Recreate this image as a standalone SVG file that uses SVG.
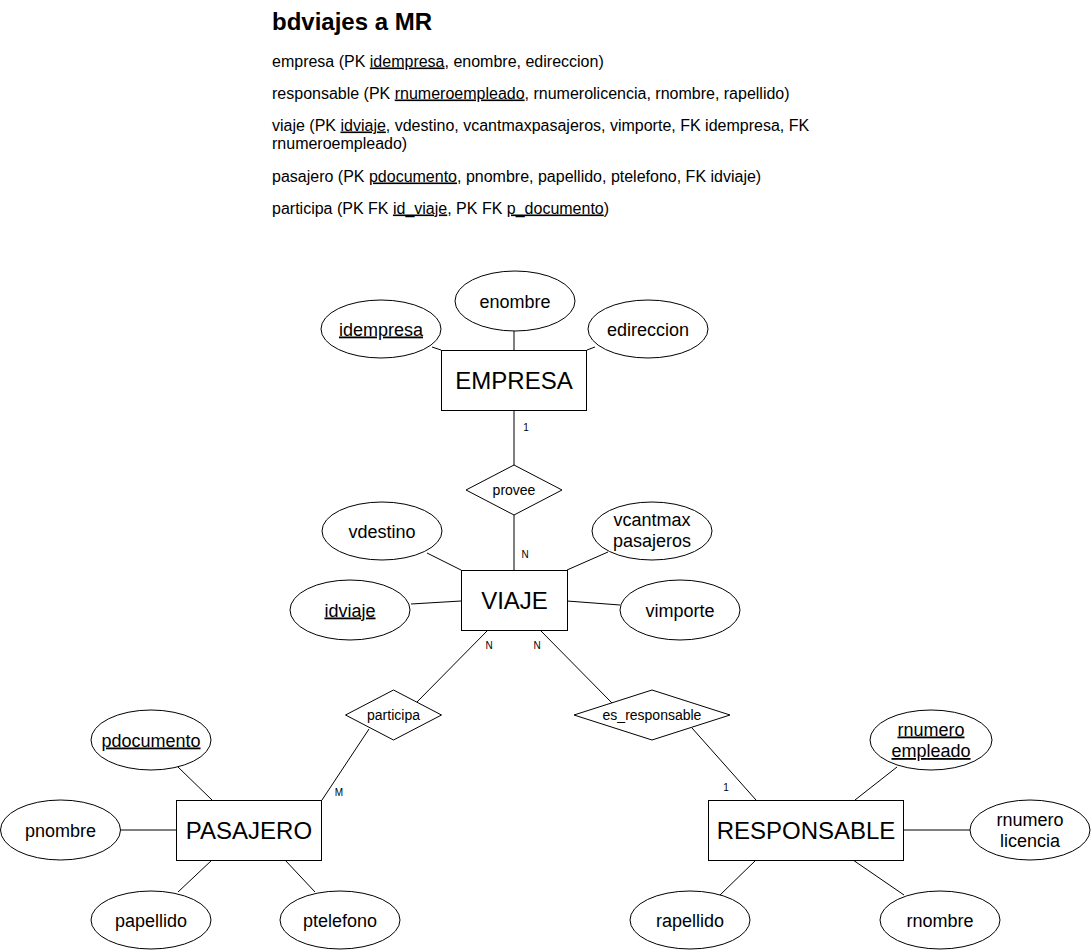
<svg xmlns="http://www.w3.org/2000/svg" width="1091" height="951" viewBox="0 0 1091 951">
<style>
.shp{fill:#ffffff;stroke:#000000;stroke-width:1}
.ln{stroke:#000000;stroke-width:1;fill:none}
text{font-family:"Liberation Sans",Arial,sans-serif;fill:#000000}
.ent{font-size:24px;text-anchor:middle}
.att{font-size:18px;text-anchor:middle}
.rel{font-size:14px;text-anchor:middle}
.card{font-size:10px;text-anchor:middle}
.body{font-size:16px}
.u{text-decoration:underline}
</style>
<rect x="0" y="0" width="1091" height="951" fill="#ffffff"/>
<g id="schema-text">
<text x="272" y="29.5" style="font-size:24px;font-weight:bold">bdviajes a MR</text>
<text class="body" x="272" y="66.5">empresa (PK <tspan class="u">idempresa</tspan>, enombre, edireccion)</text>
<text class="body" x="272" y="98.5">responsable (PK <tspan class="u">rnumeroempleado</tspan>, rnumerolicencia, rnombre, rapellido)</text>
<text class="body" x="272" y="130.5">viaje (PK <tspan class="u">idviaje</tspan>, vdestino, vcantmaxpasajeros, vimporte, FK idempresa, FK</text>
<text class="body" x="272" y="148.5">rnumeroempleado)</text>
<text class="body" x="272" y="181.5">pasajero (PK <tspan class="u">pdocumento</tspan>, pnombre, papellido, ptelefono, FK idviaje)</text>
<text class="body" x="272" y="213.5">participa (PK FK <tspan class="u">id_viaje</tspan>, PK FK <tspan class="u">p_documento</tspan>)</text>
</g>
<g id="connectors">
<line class="ln" x1="514" y1="410" x2="514" y2="465"/>
<line class="ln" x1="514" y1="515" x2="514" y2="570"/>
<line class="ln" x1="488" y1="630" x2="417" y2="702"/>
<line class="ln" x1="369" y1="729" x2="322" y2="800"/>
<line class="ln" x1="540" y1="630" x2="612" y2="703"/>
<line class="ln" x1="692" y1="728" x2="756" y2="800"/>
<line class="ln" x1="432" y1="347" x2="441" y2="350"/>
<line class="ln" x1="514" y1="331" x2="514" y2="350"/>
<line class="ln" x1="587" y1="350" x2="595" y2="347"/>
<line class="ln" x1="427" y1="553" x2="461" y2="570"/>
<line class="ln" x1="567" y1="570" x2="608" y2="552"/>
<line class="ln" x1="411" y1="604" x2="461" y2="601"/>
<line class="ln" x1="567" y1="601" x2="620" y2="605"/>
<line class="ln" x1="178" y1="767" x2="212" y2="800"/>
<line class="ln" x1="121" y1="830" x2="176" y2="830"/>
<line class="ln" x1="212" y1="860" x2="178" y2="892"/>
<line class="ln" x1="285" y1="860" x2="315" y2="892"/>
<line class="ln" x1="897" y1="767" x2="855" y2="800"/>
<line class="ln" x1="903" y1="830" x2="970" y2="830"/>
<line class="ln" x1="756" y1="860" x2="720" y2="895"/>
<line class="ln" x1="853" y1="860" x2="904" y2="895"/>
<text class="card" x="526" y="430.5">1</text>
<text class="card" x="525" y="557.5">N</text>
<text class="card" x="489" y="648.5">N</text>
<text class="card" x="537" y="648.5">N</text>
<text class="card" x="339" y="795.5">M</text>
<text class="card" x="726" y="790.5">1</text>
</g>
<g id="EMPRESA">
<rect class="shp" x="441.5" y="350.5" width="145" height="60"/>
<text class="ent" x="514" y="388.5">EMPRESA</text>
</g>
<g id="idempresa">
<ellipse class="shp" cx="381" cy="329" rx="60" ry="29"/>
<text class="att u" x="381" y="335.5">idempresa</text>
</g>
<g id="enombre">
<ellipse class="shp" cx="515" cy="301" rx="60" ry="30"/>
<text class="att" x="515" y="307.5">enombre</text>
</g>
<g id="edireccion">
<ellipse class="shp" cx="648" cy="329" rx="60" ry="29"/>
<text class="att" x="648" y="335.5">edireccion</text>
</g>
<g id="provee">
<polygon class="shp" points="466,490 514,465 562,490 514,515"/>
<text class="rel" x="514" y="495">provee</text>
</g>
<g id="VIAJE">
<rect class="shp" x="461.5" y="570.5" width="106" height="60"/>
<text class="ent" x="514.5" y="608.5">VIAJE</text>
</g>
<g id="vdestino">
<ellipse class="shp" cx="382" cy="531" rx="60" ry="29"/>
<text class="att" x="382" y="537.5">vdestino</text>
</g>
<g id="vcantmaxpasajeros">
<ellipse class="shp" cx="652" cy="531" rx="60" ry="29"/>
<text class="att" x="652" y="526">vcantmax</text>
<text class="att" x="652" y="547">pasajeros</text>
</g>
<g id="idviaje">
<ellipse class="shp" cx="350" cy="610" rx="60" ry="30"/>
<text class="att u" x="350" y="616.5">idviaje</text>
</g>
<g id="vimporte">
<ellipse class="shp" cx="680" cy="610" rx="60" ry="30"/>
<text class="att" x="680" y="616.5">vimporte</text>
</g>
<g id="participa">
<polygon class="shp" points="345.5,715 393.5,690 441.5,715 393.5,740"/>
<text class="rel" x="393.5" y="720">participa</text>
</g>
<g id="es_responsable">
<polygon class="shp" points="574,715 652,690 730,715 652,740"/>
<text class="rel" x="652" y="720">es_responsable</text>
</g>
<g id="PASAJERO">
<rect class="shp" x="176.5" y="800.5" width="145" height="60"/>
<text class="ent" x="249" y="838.5">PASAJERO</text>
</g>
<g id="pdocumento">
<ellipse class="shp" cx="151" cy="740" rx="60" ry="30"/>
<text class="att u" x="151" y="746.5">pdocumento</text>
</g>
<g id="pnombre">
<ellipse class="shp" cx="60.5" cy="830" rx="60" ry="30"/>
<text class="att" x="60.5" y="836.5">pnombre</text>
</g>
<g id="papellido">
<ellipse class="shp" cx="151" cy="920" rx="60" ry="29"/>
<text class="att" x="151" y="926.5">papellido</text>
</g>
<g id="ptelefono">
<ellipse class="shp" cx="340" cy="920" rx="60" ry="29"/>
<text class="att" x="340" y="926.5">ptelefono</text>
</g>
<g id="RESPONSABLE">
<rect class="shp" x="708.5" y="800.5" width="195" height="60"/>
<text class="ent" x="806" y="838.5">RESPONSABLE</text>
</g>
<g id="rnumeroempleado">
<ellipse class="shp" cx="931" cy="740" rx="61" ry="30"/>
<text class="att u" x="931" y="735.5">rnumero</text>
<text class="att u" x="931" y="757">empleado</text>
</g>
<g id="rnumerolicencia">
<ellipse class="shp" cx="1030" cy="830" rx="60" ry="30"/>
<text class="att" x="1030" y="825.5">rnumero</text>
<text class="att" x="1030" y="847">licencia</text>
</g>
<g id="rapellido">
<ellipse class="shp" cx="690" cy="920" rx="60" ry="29"/>
<text class="att" x="690" y="926.5">rapellido</text>
</g>
<g id="rnombre">
<ellipse class="shp" cx="940" cy="920" rx="60" ry="29"/>
<text class="att" x="940" y="926.5">rnombre</text>
</g>
</svg>
